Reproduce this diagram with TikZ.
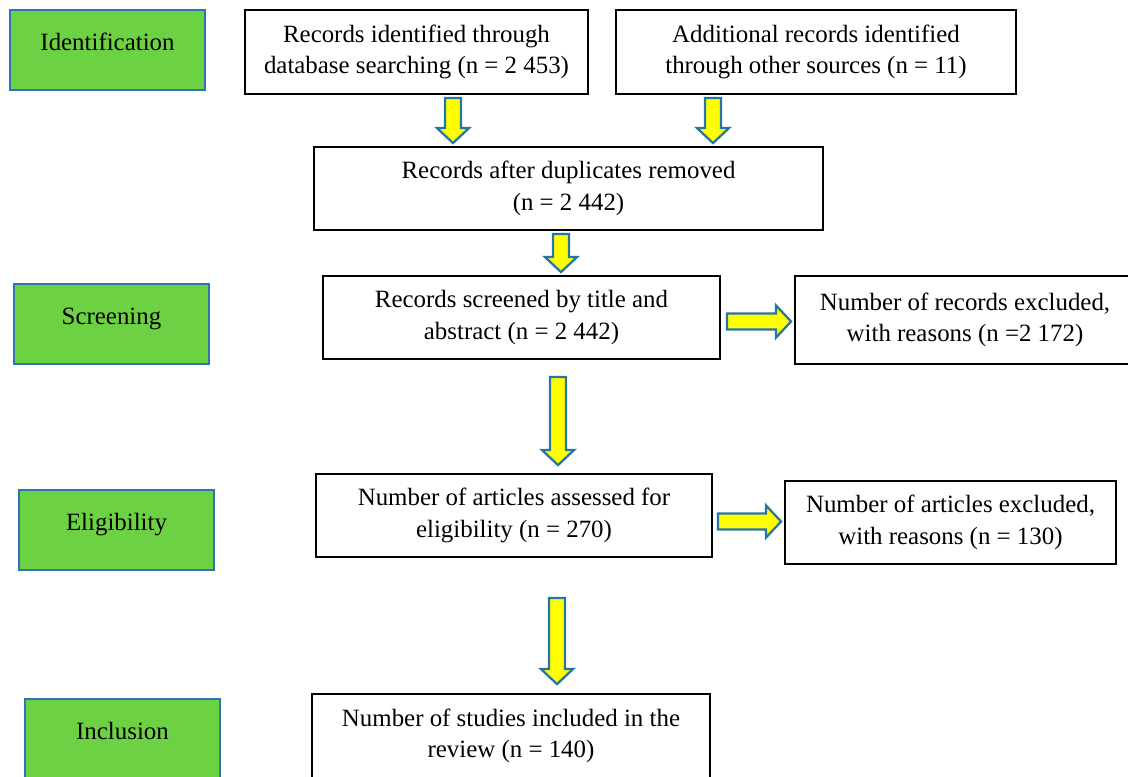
\documentclass[tikz,border=0pt]{standalone}
\usepackage{fontspec}
\setmainfont{Liberation Serif}
\usetikzlibrary{calc}

\definecolor{stagegreen}{HTML}{6CD243}
\definecolor{edgeblue}{HTML}{2E75B6}
\definecolor{arrowblue}{HTML}{2475A8}
\definecolor{arrowyellow}{HTML}{FFFF00}

% one pixel of the layout
\newcommand{\pxu}{0.025cm}

\tikzset{
  stage/.style={draw=edgeblue, line width=1.5pt, fill=stagegreen, rectangle,
    minimum width=195*\pxu, minimum height=80*\pxu, text height=8pt, text depth=8pt},
  recbox/.style={draw=black, line width=1.3pt, fill=white, rectangle, align=center},
  yarr/.style={draw=arrowblue, line width=1.6pt, fill=arrowyellow, line join=miter}
}

% block arrow from #1 to #2
\newcommand{\yarrow}[2]{%
  \draw[yarr] let \p1=(#1), \p2=(#2),
    \n1={atan2(\y2-\y1,\x2-\x1)}, \n2={veclen(\x2-\x1,\y2-\y1)} in
    [shift={(\p1)}, rotate=\n1]
    (0pt,-5.7pt) -- ({\n2*1pt-10.7pt},-5.7pt) -- ({\n2*1pt-10.7pt},-11.4pt)
    -- ({\n2*1pt},0pt) -- ({\n2*1pt-10.7pt},11.4pt) -- ({\n2*1pt-10.7pt},5.7pt)
    -- (0pt,5.7pt) -- cycle;
}

\begin{document}
\begin{tikzpicture}[x=\pxu, y=\pxu, font=\fontsize{17.7}{22.3}\selectfont]
\useasboundingbox (0,0) rectangle (1128,-776);
\clip (0,0) rectangle (1128,-776);

% stages
\node[stage] (ident) at (107.5,-50) {Identification};
\node[stage] (screen) at (111.5,-324) {Screening};
\node[stage] (elig) at (116.5,-530) {Eligibility};
\node[stage] (inclu) at (122.5,-739) {Inclusion};

% records
\node[recbox, minimum width=343*\pxu, minimum height=84*\pxu] (rec1) at (416.5,-52)
  {Records identified through\\database searching (n = 2 453)};
\node[recbox, minimum width=400*\pxu, minimum height=84*\pxu] (rec2) at (816,-52)
  {Additional records identified\\through other sources (n = 11)};
\node[recbox, minimum width=509*\pxu, minimum height=83*\pxu] (dup) at (568.5,-188.5)
  {Records after duplicates removed\\(n = 2 442)};
\node[recbox, minimum width=397*\pxu, minimum height=83*\pxu] (scr1) at (521.5,-317.5)
  {Records screened by title and\\abstract (n = 2 442)};
\node[recbox, minimum width=340*\pxu, minimum height=88*\pxu] (exc1) at (965,-320)
  {Number of records excluded,\\with reasons (n =2 172)};
\node[recbox, minimum width=396*\pxu, minimum height=83*\pxu] (ass) at (514,-515.5)
  {Number of articles assessed for\\eligibility (n = 270)};
\node[recbox, minimum width=331*\pxu, minimum height=83*\pxu] (exc2) at (950.5,-522.5)
  {Number of articles excluded,\\with reasons (n = 130)};
\node[recbox, minimum width=398*\pxu, minimum height=84*\pxu] (incl) at (511,-736)
  {Number of studies included in the\\review (n = 140)};

% arrows
\yarrow{$(rec1.south)+(36.5,-3)$}{$(dup.north)+(-115.5,3)$}
\yarrow{$(rec2.south)+(-103,-3)$}{$(dup.north)+(144.5,3)$}
\yarrow{$(dup.south)+(-7.5,-3)$}{$(scr1.north)+(39.5,3)$}
\yarrow{$(scr1.east)+(6,-4)$}{$(exc1.west)+(-3,-1.5)$}
\yarrow{$(scr1.south)+(36.5,-17)$}{$(ass.north)+(44,8)$}
\yarrow{$(ass.east)+(5,-6)$}{$(exc2.west)+(-3,1)$}
\yarrow{$(ass.south)+(43,-40)$}{$(incl.north)+(46,9)$}
\end{tikzpicture}
\end{document}
